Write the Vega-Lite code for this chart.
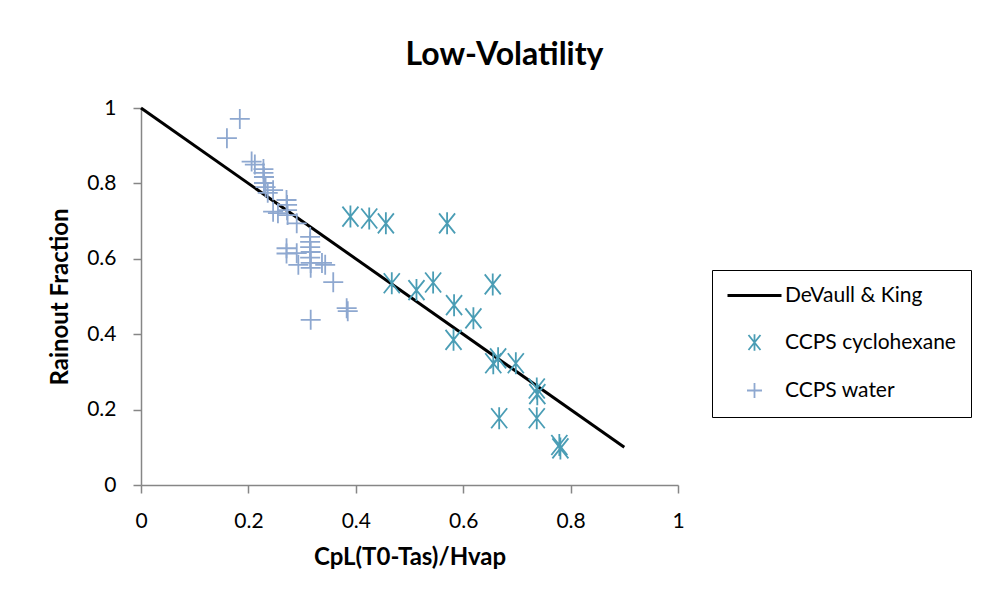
{
  "$schema": "https://vega.github.io/schema/vega-lite/v6.json",
  "width": 537,
  "height": 377,
  "autosize": {"type": "none"},
  "padding": {"left": 141, "top": 108, "right": 312, "bottom": 117},
  "background": "white",
  "title": {
    "text": "Low-Volatility",
    "font": "Lato",
    "fontSize": 32,
    "fontWeight": "bold",
    "color": "black",
    "anchor": "middle",
    "frame": "group",
    "dx": 95,
    "baseline": "alphabetic",
    "offset": 0
  },
  "config": {
    "view": {"stroke": null},
    "font": "Lato",
    "axis": {
      "domainColor": "#868686",
      "domainWidth": 1.5,
      "tickColor": "#868686",
      "tickWidth": 1.5,
      "tickSize": 8,
      "grid": false,
      "labelFlush": false,
      "labelFont": "Lato",
      "labelFontSize": 21,
      "labelColor": "black",
      "labelPadding": 17,
      "titleFont": "Lato",
      "titleFontSize": 24,
      "titleFontWeight": "bold",
      "titleColor": "black",
      "titlePadding": 14
    }
  },
  "data": {
    "values": [
      {"series": "DeVaull & King", "x": 0, "y": 1},
      {"series": "DeVaull & King", "x": 0.9, "y": 0.1},
      {"series": "CCPS cyclohexane", "x": 0.390, "y": 0.712},
      {"series": "CCPS cyclohexane", "x": 0.425, "y": 0.707},
      {"series": "CCPS cyclohexane", "x": 0.456, "y": 0.694},
      {"series": "CCPS cyclohexane", "x": 0.570, "y": 0.694},
      {"series": "CCPS cyclohexane", "x": 0.467, "y": 0.535},
      {"series": "CCPS cyclohexane", "x": 0.513, "y": 0.517},
      {"series": "CCPS cyclohexane", "x": 0.544, "y": 0.537},
      {"series": "CCPS cyclohexane", "x": 0.655, "y": 0.532},
      {"series": "CCPS cyclohexane", "x": 0.583, "y": 0.477},
      {"series": "CCPS cyclohexane", "x": 0.619, "y": 0.442},
      {"series": "CCPS cyclohexane", "x": 0.582, "y": 0.385},
      {"series": "CCPS cyclohexane", "x": 0.656, "y": 0.323},
      {"series": "CCPS cyclohexane", "x": 0.665, "y": 0.336},
      {"series": "CCPS cyclohexane", "x": 0.698, "y": 0.323},
      {"series": "CCPS cyclohexane", "x": 0.737, "y": 0.256},
      {"series": "CCPS cyclohexane", "x": 0.738, "y": 0.241},
      {"series": "CCPS cyclohexane", "x": 0.667, "y": 0.177},
      {"series": "CCPS cyclohexane", "x": 0.737, "y": 0.177},
      {"series": "CCPS cyclohexane", "x": 0.779, "y": 0.106},
      {"series": "CCPS cyclohexane", "x": 0.781, "y": 0.097},
      {"series": "CCPS water", "x": 0.184, "y": 0.971},
      {"series": "CCPS water", "x": 0.160, "y": 0.920},
      {"series": "CCPS water", "x": 0.206, "y": 0.858},
      {"series": "CCPS water", "x": 0.212, "y": 0.850},
      {"series": "CCPS water", "x": 0.228, "y": 0.838},
      {"series": "CCPS water", "x": 0.228, "y": 0.828},
      {"series": "CCPS water", "x": 0.229, "y": 0.817},
      {"series": "CCPS water", "x": 0.229, "y": 0.801},
      {"series": "CCPS water", "x": 0.232, "y": 0.790},
      {"series": "CCPS water", "x": 0.236, "y": 0.775},
      {"series": "CCPS water", "x": 0.246, "y": 0.782},
      {"series": "CCPS water", "x": 0.246, "y": 0.725},
      {"series": "CCPS water", "x": 0.255, "y": 0.721},
      {"series": "CCPS water", "x": 0.271, "y": 0.756},
      {"series": "CCPS water", "x": 0.272, "y": 0.743},
      {"series": "CCPS water", "x": 0.272, "y": 0.729},
      {"series": "CCPS water", "x": 0.273, "y": 0.716},
      {"series": "CCPS water", "x": 0.290, "y": 0.694},
      {"series": "CCPS water", "x": 0.271, "y": 0.628},
      {"series": "CCPS water", "x": 0.271, "y": 0.614},
      {"series": "CCPS water", "x": 0.290, "y": 0.615},
      {"series": "CCPS water", "x": 0.293, "y": 0.584},
      {"series": "CCPS water", "x": 0.315, "y": 0.658},
      {"series": "CCPS water", "x": 0.315, "y": 0.645},
      {"series": "CCPS water", "x": 0.315, "y": 0.631},
      {"series": "CCPS water", "x": 0.316, "y": 0.618},
      {"series": "CCPS water", "x": 0.315, "y": 0.603},
      {"series": "CCPS water", "x": 0.316, "y": 0.589},
      {"series": "CCPS water", "x": 0.316, "y": 0.576},
      {"series": "CCPS water", "x": 0.337, "y": 0.589},
      {"series": "CCPS water", "x": 0.343, "y": 0.584},
      {"series": "CCPS water", "x": 0.358, "y": 0.538},
      {"series": "CCPS water", "x": 0.383, "y": 0.469},
      {"series": "CCPS water", "x": 0.385, "y": 0.461},
      {"series": "CCPS water", "x": 0.316, "y": 0.438}
    ]
  },
  "encoding": {
    "x": {
      "field": "x",
      "type": "quantitative",
      "title": "CpL(T0-Tas)/Hvap",
      "scale": {"domain": [0, 1], "nice": false, "zero": false},
      "axis": {"values": [0, 0.2, 0.4, 0.6, 0.8, 1], "format": ".1~f"}
    },
    "y": {
      "field": "y",
      "type": "quantitative",
      "title": "Rainout Fraction",
      "scale": {"domain": [0, 1], "nice": false, "zero": false},
      "axis": {"values": [0, 0.2, 0.4, 0.6, 0.8, 1], "format": ".1~f"}
    },
    "color": {
      "field": "series",
      "type": "nominal",
      "scale": {
        "domain": ["DeVaull & King", "CCPS cyclohexane", "CCPS water"],
        "range": ["black", "#4A9DB5", "#8EA8D0"]
      },
      "legend": {
        "title": null,
        "orient": "none",
        "legendX": 571,
        "legendY": 162,
        "padding": 15,
        "rowPadding": 24,
        "strokeColor": "black",
        "symbolSize": 225,
        "symbolOffset": 17,
        "symbolStrokeWidth": 1.8,
        "symbolFillColor": "transparent",
        "labelFont": "Lato",
        "labelFontSize": 21,
        "labelColor": "black",
        "labelOffset": 20,
        "labelLimit": 400,
        "encode": {
          "symbols": {
            "update": {
              "strokeWidth": {"signal": "datum.value === 'DeVaull & King' ? 3 : 1.8"}
            }
          }
        }
      }
    }
  },
  "layer": [
    {
      "transform": [{"filter": "datum.series === 'DeVaull & King'"}],
      "mark": {"type": "line", "strokeWidth": 3}
    },
    {
      "transform": [{"filter": "datum.series !== 'DeVaull & King'"}],
      "mark": {"type": "point", "filled": false, "strokeWidth": 1.8, "size": 400, "opacity": 1},
      "encoding": {
        "shape": {
          "field": "series",
          "type": "nominal",
          "scale": {
            "domain": ["DeVaull & King", "CCPS cyclohexane", "CCPS water"],
            "range": ["M-3.6,0L3.6,0", "M-0.8,-1L0.8,1M-0.8,1L0.8,-1M0,-1.1L0,1.1", "M-1,0L1,0M0,-1L0,1"]
          },
          "legend": {
            "title": null
          }
        }
      }
    }
  ]
}
